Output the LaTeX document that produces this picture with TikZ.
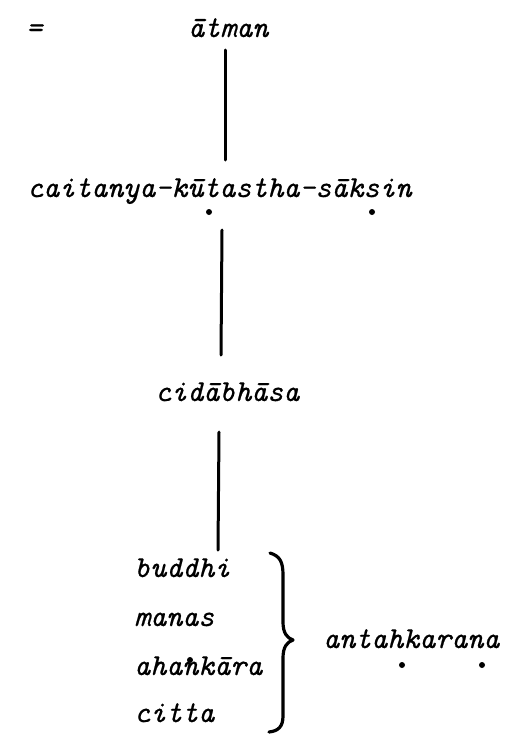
\documentclass[tikz,border=0pt]{standalone}
% typewriter italic, a little heavier than the plain face
\font\typewriter="[lmmono10-italic.otf]:embolden=0.6" at 30.5pt
\begin{document}
\begin{tikzpicture}[x=1pt,y=1pt,
  typed/.style={inner sep=0pt,anchor=base west,font=\typewriter},
  stem/.style={line width=3pt,line cap=round},
  brace/.style={line width=3.2pt,line cap=round,line join=round},
  dotmark/.style={circle,fill=black,inner sep=0pt,minimum size=6pt}]
\useasboundingbox (0,0) rectangle (519,-736);

% equals sign and the top term
\node[typed] (eq) at (26,-37) {=};
\node[typed] (atman) at (188,-37) {\=atman};

% witness line
\node[typed] (saksin) at (27,-197) {caitanya-k\=utastha-s\=aksin};
\node[dotmark] (d1) at (209,-212) {};
\node[dotmark] (d2) at (372,-212) {};

% reflected consciousness
\node[typed] (cid) at (155,-401) {cid\=abh\=asa};

% the four inner faculties
\node[typed] (buddhi) at (134,-577) {buddhi};
\node[typed] (manas) at (134,-626) {manas};
\node[typed] (ahan) at (134,-675) {ahank\=ara};
\node[dotmark] (d3) at (190,-660) {};
\node[typed] (citta) at (134,-722) {citta};

% collective name
\node[typed] (antah) at (323,-648) {antahkarana};
\node[dotmark] (d4) at (402,-665) {};
\node[dotmark] (d5) at (482,-665) {};

% vertical connectors
\coordinate (s1a) at (225,-50);  \coordinate (s1b) at (225,-160);
\coordinate (s2a) at (222,-230); \coordinate (s2b) at (221,-355);
\coordinate (s3a) at (219,-432); \coordinate (s3b) at (218,-550);
\draw[stem] (s1a) -- (s1b);
\draw[stem] (s2a) -- (s2b);
\draw[stem] (s3a) -- (s3b);

% right brace grouping the faculties
\coordinate (bt) at (270,-553);
\coordinate (btip) at (293,-640);
\coordinate (bb) at (269,-732);
\draw[brace] (bt) .. controls (280,-556) and (283,-562) .. (283,-575)
  -- (283,-622) .. controls (283,-633) and (287,-638) .. (btip)
  .. controls (287,-642) and (283,-647) .. (283,-658)
  -- (283,-716) .. controls (283,-727) and (278,-731) .. (bb);
\end{tikzpicture}
\end{document}
